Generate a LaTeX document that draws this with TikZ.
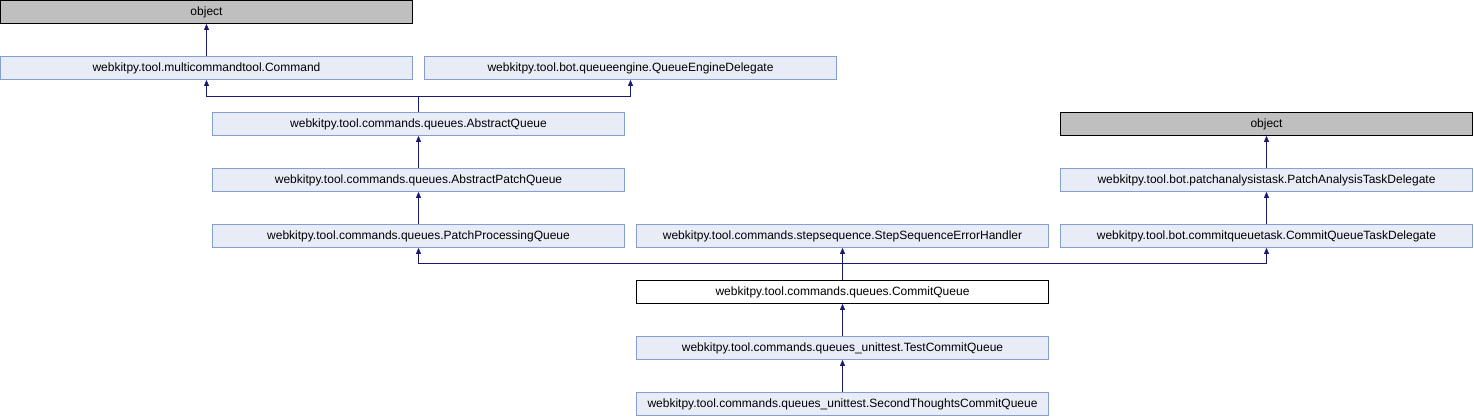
\documentclass[tikz,border=0pt]{standalone}
\usepackage{fontspec}
\setmainfont{Liberation Sans}
\usepackage{tikz}
\usetikzlibrary{
    positioning,
    arrows.meta,
    calc
}
\definecolor{DoxyFill}{HTML}{E8ECF6}
\definecolor{DoxyBorder}{HTML}{849FD0}
\definecolor{DoxyEdge}{HTML}{191970}
\tikzset{
    cls/.style={
        rectangle,
        draw=DoxyBorder,
        fill=DoxyFill,
        line width=0.8pt,
        minimum width=412pt,
        minimum height=23pt,
        inner sep=0pt,
        font=\fontsize{12}{14}\selectfont,
    },
    root/.style={
        cls,
        draw=black,
        fill=black!25,
    },
    focus/.style={
        cls,
        draw=black,
        fill=white,
    },
    edge/.style={
        <-,
        >={Triangle[length=6pt,width=5pt]},
        draw=DoxyEdge,
        line width=0.8pt,
    },
    inherit/.style={
        edge,
    },
}

\begin{document}
\begin{tikzpicture}
            \tikzset{
                node distance=56pt and 212pt,
                on grid,
            }
            \useasboundingbox (0,0) rectangle (1474pt,-416pt);

            \node[root] (objleft) at (206.5pt,-12pt) {object};
            \node[cls,below=of objleft] (command) {webkitpy.tool.multicommandtool.Command};
            \node[cls,right=424pt of command] (qed) {webkitpy.tool.bot.queueengine.QueueEngineDelegate};

            \node[cls,below right=of command] (aq) {webkitpy.tool.commands.queues.AbstractQueue};
            \node[cls,below=of aq] (apq) {webkitpy.tool.commands.queues.AbstractPatchQueue};
            \node[cls,below=of apq] (ppq) {webkitpy.tool.commands.queues.PatchProcessingQueue};

            \node[cls,right=424pt of ppq] (sseh) {webkitpy.tool.commands.stepsequence.StepSequenceErrorHandler};
            \node[cls,right=424pt of sseh] (cqtd) {webkitpy.tool.bot.commitqueuetask.CommitQueueTaskDelegate};
            \node[cls,above=of cqtd] (patd) {webkitpy.tool.bot.patchanalysistask.PatchAnalysisTaskDelegate};
            \node[root,above=of patd] (objright) {object};

            \node[focus,below=of sseh] (cq) {webkitpy.tool.commands.queues.CommitQueue};
            \node[cls,below=of cq] (tcq) {webkitpy.tool.commands.queues\_unittest.TestCommitQueue};
            \node[cls,below=of tcq] (stcq) {webkitpy.tool.commands.queues\_unittest.SecondThoughtsCommitQueue};

            \coordinate (aqjoin) at ($(aq.north)+(0,16pt)$);
            \coordinate (cqjoin) at ($(cq.north)+(0,17pt)$);

            \draw[inherit] (objleft) -- (command);
            \draw[inherit] (command.south) |- (aqjoin) -- (aq.north);
            \draw[inherit] (qed.south) |- (aqjoin);

            \draw[inherit] (aq) -- (apq);
            \draw[inherit] (apq) -- (ppq);

            \draw[inherit] (objright) -- (patd);
            \draw[inherit] (patd) -- (cqtd);

            \draw[inherit] (ppq.south) |- (cqjoin) -- (cq.north);
            \draw[inherit] (sseh) -- (cq);
            \draw[inherit] (cqtd.south) |- (cqjoin);

            \draw[inherit] (cq) -- (tcq);
            \draw[inherit] (tcq) -- (stcq);
        \end{tikzpicture}
\end{document}
